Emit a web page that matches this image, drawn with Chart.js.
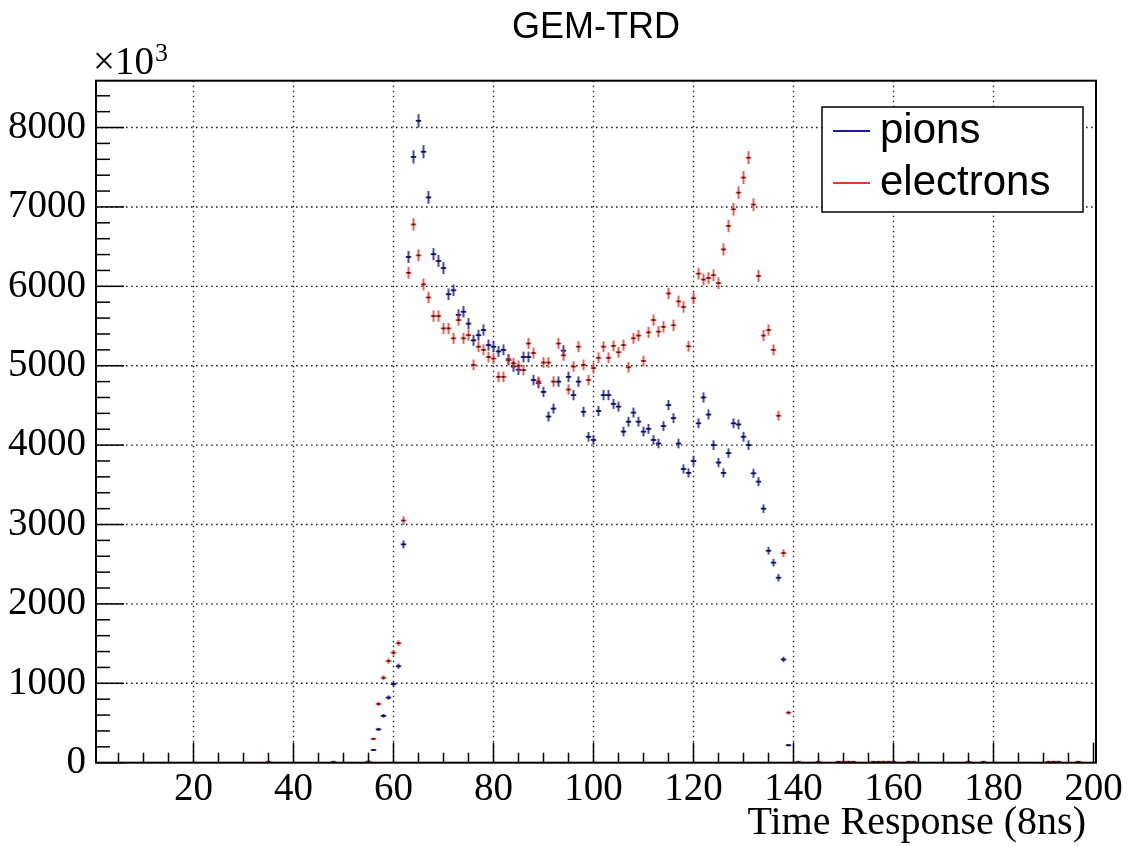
<!DOCTYPE html>
<html>
<head>
<meta charset="utf-8">
<script src="https://cdn.jsdelivr.net/npm/chart.js@4.4.0/dist/chart.umd.min.js"></script>
<style>
  html, body { margin: 0; padding: 0; background: #fff; }
  #wrap { width: 1128px; height: 846px; }
</style>
</head>
<body>
<div id="wrap"><canvas id="gemChart" width="1128" height="846"></canvas></div>
<script>
// ========== DATA (counts in units of 10^3) ==========
const timeBins = [
  55, 56, 57, 58, 59, 60, 61, 62, 63, 64, 65, 66, 67, 68, 69, 70, 71, 72, 73, 74,
  75, 76, 77, 78, 79, 80, 81, 82, 83, 84, 85, 86, 87, 88, 89, 90, 91, 92, 93, 94,
  95, 96, 97, 98, 99, 100, 101, 102, 103, 104, 105, 106, 107, 108, 109, 110, 111, 112, 113, 114,
  115, 116, 117, 118, 119, 120, 121, 122, 123, 124, 125, 126, 127, 128, 129, 130, 131, 132, 133, 134,
  135, 136, 137, 138, 139
];

const pions = [
  10, 160, 420, 590, 820, 990, 1215, 2750, 6370, 7630, 8085, 7695, 7120, 6405, 6320, 6230, 5900, 5950, 5640, 5680,
  5530, 5320, 5385, 5450, 5260, 5240, 5180, 5200, 5080, 4990, 4950, 5110, 5110, 4820, 4780, 4670, 4360, 4460, 4800, 5190,
  4860, 4630, 4800, 4420, 4105, 4065, 4430, 4630, 4630, 4520, 4485, 4170, 4295, 4410, 4295, 4170, 4205, 4065, 4020, 4240,
  4505, 4340, 4020, 3700, 3650, 3800, 4275, 4600, 4385, 4000, 3780, 3650, 3900, 4275, 4260, 4105, 4000, 3645, 3540, 3200,
  2670, 2520, 2330, 1300, 220
];

const electrons = [
  15, 300, 740, 1070, 1280, 1385, 1505, 3050, 6170, 6780, 6390, 6025, 5860, 5625, 5625, 5470, 5470, 5345, 5575, 5345,
  5385, 5010, 5240, 5200, 5110, 5090, 4860, 4860, 5070, 5030, 5000, 4945, 5280, 5160, 4800, 5040, 5040, 4800, 5280, 5130,
  4700, 4990, 5240, 5010, 4820, 4970, 5100, 5240, 5100, 5250, 5170, 5260, 4980, 5345, 5380, 5060, 5420, 5575, 5430, 5490,
  5910, 5510, 5810, 5740, 5245, 5850, 6160, 6085, 6105, 6140, 6040, 6465, 6760, 6970, 7180, 7370, 7620, 7030, 6130, 5380,
  5450, 5200, 4370, 2640, 630
];

// sparse near-zero electron bins outside the main pulse
const electronTailBins = [35, 48, 141, 145, 149, 150, 151, 152, 156, 157, 158, 159, 160, 163, 164, 175, 178, 191, 192, 193, 197];
const electronTailCounts = [12, 12, 12, 12, 12, 12, 12, 12, 12, 12, 12, 12, 12, 12, 12, 12, 12, 12, 12, 12, 12];

const xTickValues = [20, 40, 60, 80, 100, 120, 140, 160, 180, 200];
const yTickValues = [0, 1000, 2000, 3000, 4000, 5000, 6000, 7000, 8000];

const PION_COLOR = '#1c1c9a';
const ELECTRON_COLOR = '#e8382e';
const ERR_SCALE = 0.95; // vertical error bar half-length ~ sqrt(N)

// ========== HELPERS ==========
function line(ctx, x1, y1, x2, y2) {
  ctx.beginPath();
  ctx.moveTo(x1, y1);
  ctx.lineTo(x2, y2);
  ctx.stroke();
}

const pionPoints = timeBins.map((b, i) => ({ x: b, y: pions[i] }));
const electronPoints = timeBins.map((b, i) => ({ x: b, y: electrons[i] }))
  .concat(electronTailBins.map((b, i) => ({ x: b, y: electronTailCounts[i] })));

// ========== ROOT-LIKE DECORATION ==========
const rootStyle = {
  id: 'rootStyle',
  beforeDatasetsDraw(chart) {
    const { ctx, chartArea: a, scales: { x, y } } = chart;
    ctx.save();
    ctx.strokeStyle = '#222';
    ctx.lineWidth = 1.4;
    ctx.setLineDash([1.6, 3.4]);
    xTickValues.forEach(v => {
      const px = x.getPixelForValue(v);
      if (px > a.right - 3) return;
      line(ctx, px, a.top, px, a.bottom);
    });
    yTickValues.forEach(v => {
      if (v === 0) return;
      const py = y.getPixelForValue(v);
      line(ctx, a.left, py, a.right, py);
    });
    ctx.restore();
  },
  afterDatasetsDraw(chart) {
    const { ctx, chartArea: a, scales: { x, y } } = chart;
    ctx.save();

    // error bars
    chart.data.datasets.forEach(ds => {
      ds.data.forEach(p => {
        const err = ERR_SCALE * Math.sqrt(p.y);
        const cx = x.getPixelForValue(p.x);
        const cy = y.getPixelForValue(p.y);
        ctx.strokeStyle = ds.borderColor;
        ctx.globalAlpha = 0.8;
        ctx.lineWidth = 2;
        line(ctx, cx, y.getPixelForValue(p.y + err), cx, y.getPixelForValue(p.y - err));
        ctx.globalAlpha = 1;
        ctx.lineWidth = 1.8;
        line(ctx, x.getPixelForValue(p.x - 0.55), cy, x.getPixelForValue(p.x + 0.55), cy);
        ctx.fillStyle = '#111';
        ctx.fillRect(cx - 1, cy - 0.8, 2, 1.6);
      });
    });

    // frame
    ctx.strokeStyle = '#000';
    ctx.lineWidth = 2;
    ctx.strokeRect(a.left, a.top, a.right - a.left, a.bottom - a.top);

    // y ticks (inside)
    ctx.lineWidth = 1.5;
    for (let v = 0; v <= 8590; v += 200) {
      const py = y.getPixelForValue(v);
      const len = v % 1000 === 0 ? 28 : 14;
      line(ctx, a.left, py, a.left + len, py);
    }
    // x ticks (inside)
    for (let v = 5; v <= 200; v += 5) {
      const px = x.getPixelForValue(v);
      const len = v % 20 === 0 ? 20 : 10;
      line(ctx, px, a.bottom, px, a.bottom - len);
    }

    // texts
    ctx.fillStyle = '#000';
    ctx.textBaseline = 'alphabetic';
    ctx.textAlign = 'center';
    ctx.font = '36px "Liberation Sans", Arial, sans-serif';
    ctx.fillText('GEM-TRD', (a.left + a.right) / 2, 38);

    ctx.textAlign = 'left';
    ctx.font = '39px "Liberation Serif", "Times New Roman", serif';
    ctx.fillText('\u00d710', 93, 74);
    const w = ctx.measureText('\u00d710').width;
    ctx.font = '26px "Liberation Serif", "Times New Roman", serif';
    ctx.fillText('3', 93 + w + 1, 61);

    ctx.textAlign = 'right';
    ctx.font = '40px "Liberation Serif", "Times New Roman", serif';
    ctx.fillText('Time Response (8ns)', 1086, 834);

    // legend
    const lx = 822, ly = 107, lw = 261, lh = 105;
    ctx.fillStyle = '#fff';
    ctx.fillRect(lx, ly, lw, lh);
    ctx.strokeStyle = '#000';
    ctx.lineWidth = 1.5;
    ctx.strokeRect(lx, ly, lw, lh);
    const entries = [
      { label: 'pions', color: PION_COLOR, cy: 131 },
      { label: 'electrons', color: ELECTRON_COLOR, cy: 183 }
    ];
    entries.forEach(e => {
      ctx.strokeStyle = e.color;
      ctx.lineWidth = 2;
      line(ctx, 833, e.cy, 870, e.cy);
      ctx.fillStyle = '#000';
      ctx.textAlign = 'left';
      ctx.font = '42px "Liberation Sans", Arial, sans-serif';
      ctx.fillText(e.label, 880, e.cy + 12);
    });

    ctx.restore();
  }
};

// ========== CHART ==========
const tickFont = { family: '"Liberation Serif", "Times New Roman", serif', size: 39, lineHeight: 1.2 };

new Chart(document.getElementById('gemChart').getContext('2d'), {
  type: 'scatter',
  data: {
    datasets: [
      { label: 'pions', data: pionPoints, borderColor: PION_COLOR, backgroundColor: PION_COLOR, pointRadius: 0, showLine: false },
      { label: 'electrons', data: electronPoints, borderColor: ELECTRON_COLOR, backgroundColor: ELECTRON_COLOR, pointRadius: 0, showLine: false }
    ]
  },
  options: {
    responsive: false,
    animation: false,
    layout: { padding: { top: 80.7, right: 32, bottom: 0, left: 0 } },
    plugins: {
      legend: { display: false },
      title: { display: false },
      tooltip: { enabled: false }
    },
    scales: {
      x: {
        type: 'linear',
        min: 0.5,
        max: 200.5,
        grid: { display: false, drawTicks: false },
        border: { display: false },
        afterBuildTicks: s => { s.ticks = xTickValues.map(v => ({ value: v })); },
        afterFit: s => { s.height = 83.3; },
        ticks: { font: tickFont, color: '#000', padding: 4, maxRotation: 0, autoSkip: false, callback: v => String(v) }
      },
      y: {
        type: 'linear',
        min: 0,
        max: 8590,
        grid: { display: false, drawTicks: false },
        border: { display: false },
        afterBuildTicks: s => { s.ticks = yTickValues.map(v => ({ value: v })); },
        afterFit: s => { s.width = 96; },
        ticks: { font: tickFont, color: '#000', padding: 10, autoSkip: false, callback: v => String(v) }
      }
    }
  },
  plugins: [rootStyle]
});
</script>
</body>
</html>
